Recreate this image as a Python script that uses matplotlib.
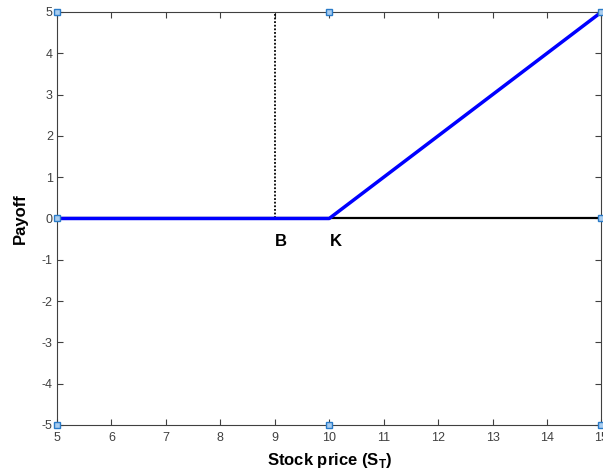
import matplotlib
matplotlib.use('Agg')
import matplotlib.pyplot as plt

plt.rcParams['font.family'] = ['Liberation Sans', 'DejaVu Sans']
plt.rcParams['axes.unicode_minus'] = False

# payoff of the option vs stock price at expiry
s_t = [5, 10, 15]
payoff = [0, 0, 5]
strike = 10
barrier = 9
zero_x = [5, 15]
zero_y = [0, 0]
handle_x = [5, 10, 15, 5, 15, 5, 10, 15]
handle_y = [5, 5, 5, 0, 0, -5, -5, -5]
xticks = list(range(5, 16))
yticks = list(range(-5, 6))

fig = plt.figure(figsize=(6.03, 4.72), dpi=100)
ax = fig.add_axes([0.0945, 0.0996, 0.903, 0.875])

ax.plot(zero_x, zero_y, color='black', lw=1.6, zorder=2)
ax.plot([barrier, barrier], [0, 5], color='black', lw=1.3, ls=(0, (1, 1)), zorder=2)
ax.plot(s_t, payoff, color='#0000ff', lw=2.5, zorder=3)
ax.plot(handle_x, handle_y, ls='none', marker='s', ms=5, mfc='#a9cdef',
        mec='#2a7bc8', mew=1, zorder=5, clip_on=False)

ax.text(barrier + 0.01, -0.55, 'B', ha='left', va='center', fontsize=12, fontweight='bold')
ax.text(strike + 0.01, -0.55, 'K', ha='left', va='center', fontsize=12, fontweight='bold')

ax.set_xlim(5, 15)
ax.set_ylim(-5, 5)
ax.set_xticks(xticks)
ax.set_yticks(yticks)
ax.tick_params(direction='in', length=4, width=0.8, top=True, right=True,
               labelsize=9, colors='#404040', pad=5)
ax.tick_params(axis='y', pad=3)
for sp in ax.spines.values():
    sp.set_color('#404040')
    sp.set_linewidth(0.8)

ax.set_xlabel('Stock price (S$_\\mathregular{T}$)', fontsize=12, fontweight='bold', labelpad=5)
ax.set_ylabel('Payoff', fontsize=12, fontweight='bold', labelpad=10)

fig.savefig('out.png', dpi=100)
